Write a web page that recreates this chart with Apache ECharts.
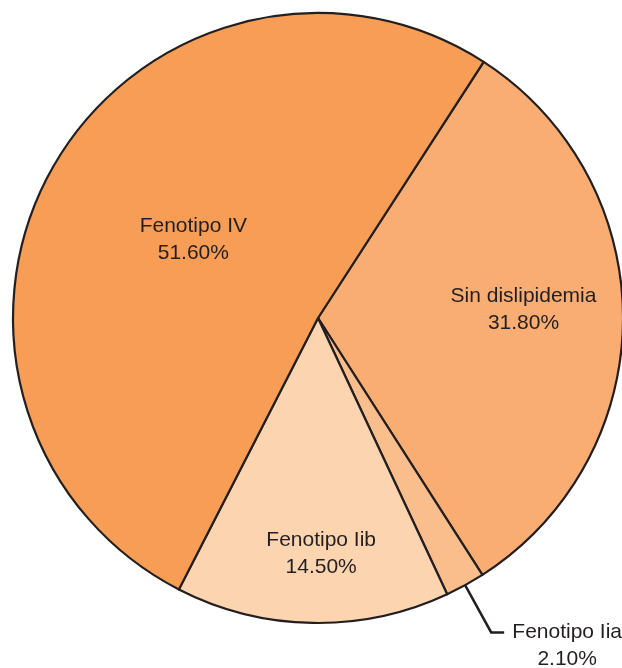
<!DOCTYPE html>
<html>
<head>
    <meta charset="UTF-8">
    <title>Fenotipos de dislipidemia</title>
    <script src="https://cdn.jsdelivr.net/npm/echarts@6/dist/echarts.min.js"></script>
    <style>
        html, body { margin: 0; padding: 0; background: #fff; }
        #main { width: 622px; height: 668px; }
    </style>
</head>
<body>
<div id="main"></div>
<script type="text/javascript">
    // datos
    var categorias = ['Sin dislipidemia', 'Fenotipo Iia', 'Fenotipo Iib', 'Fenotipo IV'];
    var porcentajes = [31.8, 2.1, 14.5, 51.6];
    var colores = ['#F9AD72', '#FABE8D', '#FCD4B0', '#F89D56'];

    // ajuste de etiquetas (desplazamiento en px)
    var ajusteEtiquetas = [[50, -9], [0, 0], [6, 80], [10, 0]];

    var chart = echarts.init(document.getElementById('main'));

    var datos = [];
    for (var i = 0; i < categorias.length; i++) {
        var item = {
            name: categorias[i],
            value: porcentajes[i],
            itemStyle: {color: colores[i]}
        };
        if (i === 1) {
            // etiqueta exterior con linea guia
            item.label = {
                position: 'outside',
                padding: [27, 0, 0, 0],
                formatter: function (p) {
                    return '{a|' + p.name + '}\n{a|' + p.value.toFixed(2) + '%}';
                },
                rich: {
                    a: {width: 116, align: 'center', fontSize: 21, lineHeight: 27,
                        color: '#231F20', fontFamily: 'Liberation Sans'}
                }
            };
            item.labelLine = {show: true, length: 54, length2: 13,
                lineStyle: {color: '#231F20', width: 2.5, opacity: 1}};
        }
        datos.push(item);
    }

    var option = {
        animation: false,
        series: [{
            type: 'pie',
            center: [318, 318],
            radius: [0, 305],
            startAngle: 57.1,
            clockwise: true,
            avoidLabelOverlap: false,
            itemStyle: {borderColor: '#231F20', borderWidth: 2.2},
            label: {
                show: true,
                position: 'inside',
                color: '#231F20',
                fontFamily: 'Liberation Sans',
                fontSize: 21,
                lineHeight: 27,
                formatter: function (p) {
                    return p.name + '\n' + p.value.toFixed(2) + '%';
                }
            },
            labelLine: {show: false, lineStyle: {color: '#231F20', width: 2.5}},
            labelLayout: function (params) {
                var d = ajusteEtiquetas[params.dataIndex];
                if (params.dataIndex === 1) return {};
                return {dx: d[0], dy: d[1]};
            },
            emphasis: {disabled: true},
            data: datos
        }]
    };

    chart.setOption(option);
</script>
</body>
</html>
